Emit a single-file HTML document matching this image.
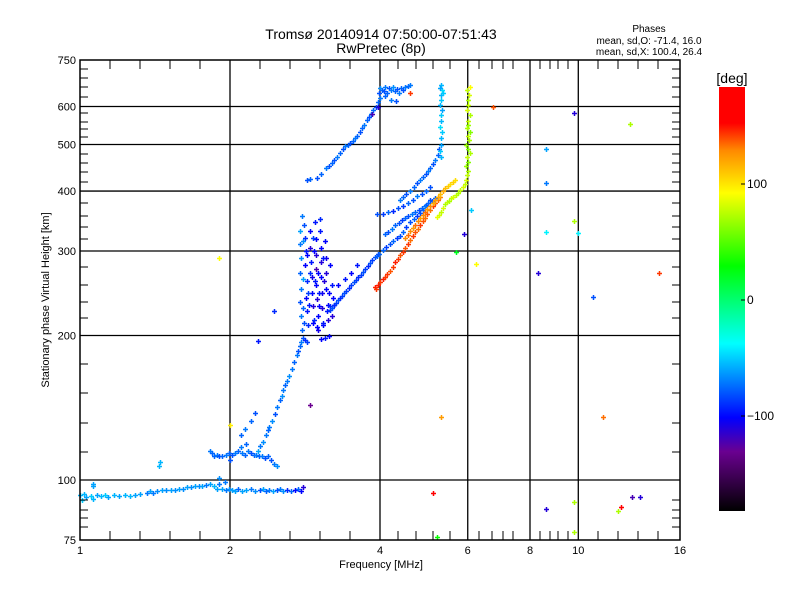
<!DOCTYPE html>
<html><head><meta charset="utf-8"><style>
html,body{margin:0;padding:0;background:#fff;}
svg{display:block;font-family:"Liberation Sans",sans-serif;}
</style></head><body>
<svg id="chart" width="800" height="600" viewBox="0 0 800 600" xmlns="http://www.w3.org/2000/svg">
<rect x="0" y="0" width="800" height="600" fill="#fff"/>
<g id="grid"></g>
<g id="points"></g>
<g id="axes"></g>
<text x="381" y="39" font-size="14" text-anchor="middle">Tromsø 20140914 07:50:00-07:51:43</text>
<text x="381" y="53" font-size="14" text-anchor="middle">RwPretec (8p)</text>
<text x="649" y="32" font-size="10" text-anchor="middle">Phases</text>
<text x="649" y="44" font-size="10" text-anchor="middle">mean, sd,O: -71.4, 16.0</text>
<text x="649" y="55" font-size="10" text-anchor="middle">mean, sd,X: 100.4, 26.4</text>
<text x="381" y="568" font-size="11" text-anchor="middle">Frequency [MHz]</text>
<text transform="translate(49,300) rotate(-90)" font-size="11" text-anchor="middle">Stationary phase Virtual Height [km]</text>
<defs><linearGradient id="cbar" x1="0" y1="1" x2="0" y2="0">
<stop offset="0" stop-color="#000"/><stop offset="0.14" stop-color="#6a0090"/><stop offset="0.22" stop-color="#0000ff"/>
<stop offset="0.395" stop-color="#00ffff"/><stop offset="0.578" stop-color="#00ff00"/><stop offset="0.75" stop-color="#ffff00"/>
<stop offset="0.85" stop-color="#ff8a00"/><stop offset="0.915" stop-color="#ff0000"/><stop offset="1" stop-color="#ff0000"/>
</linearGradient></defs>
<rect x="719" y="87" width="26" height="424" fill="url(#cbar)"/>
<text x="732" y="83" font-size="14" text-anchor="middle">[deg]</text>
<g id="cbticks" font-size="12"></g>
</svg>
<script>
// ---- data: [frequency MHz, virtual height km, phase deg] ----
const eLayer = [[1.0,93,-55],[1.01,91,-50],[1.02,93.5,-55],[1.03,92,-60],[1.05,92.5,-50],[1.06,91.5,-55],[1.08,93,-60],[1.1,92.5,-55],[1.12,93,-50],[1.14,92,-60],[1.17,93,-55],[1.2,92.5,-60],[1.23,93,-55],[1.26,92.5,-55],[1.29,93,-60],[1.32,93.5,-60],[1.36,94,-70],[1.38,95,-60],[1.4,94,-70],[1.43,95,-65],[1.46,95.5,-60],[1.49,95.5,-65],[1.52,95.5,-60],[1.55,95.5,-65],[1.58,96,-60],[1.61,96,-65],[1.64,96.5,-60],[1.67,96.5,-65],[1.7,97,-60],[1.73,97,-65],[1.76,97,-60],[1.79,97.5,-70],[1.82,98,-60],[1.86,97,-55],[1.88,96,-60],[1.9,98,-70],[1.93,96,-60],[1.96,95.5,-70],[1.99,96,-65],[2.02,95.5,-60],[2.05,95,-60],[2.08,96,-75],[2.11,95,-60],[2.15,95.5,-60],[2.2,96,-70],[2.25,95,-65],[2.3,95.5,-80],[2.33,96,-60],[2.36,95,-75],[2.4,95.5,-70],[2.44,95,-60],[2.48,95.5,-80],[2.52,96,-70],[2.56,95,-65],[2.6,95.5,-90],[2.65,95,-75],[2.7,95.5,-100],[2.74,96,-75],[2.78,95,-100],[2.8,96.5,-110],[1.44,107,-55],[1.45,109,-55],[1.06,97,-60],[1.06,98,-60],[1.9,101,-65],[1.95,99,-70]];
const esLayer = [[1.82,115,-70],[1.84,114,-75],[1.86,112,-75],[1.88,113,-70],[1.9,112,-80],[1.93,112,-75],[1.96,113,-70],[1.99,114,-75],[2.02,113,-80],[2.05,114,-70],[2.08,115,-75],[2.11,114,-70],[2.14,113,-75],[2.17,115,-70],[2.2,114,-80],[2.23,113,-75],[2.26,113,-70],[2.29,112,-75],[2.32,112,-70],[2.35,111,-80],[2.38,112,-75],[2.42,110,-80],[2.45,108,-70],[2.48,107,-65],[2.1,117,-70],[2.15,119,-75],[2.0,110,-80]];
const risingTrace = [[2.28,115,-60],[2.3,118,-70],[2.33,120,-65],[2.36,124,-70],[2.38,127,-75],[2.4,129,-70],[2.43,133,-65],[2.46,137,-80],[2.49,142,-70],[2.52,147,-75],[2.54,150,-65],[2.56,154,-70],[2.58,158,-75],[2.6,161,-70],[2.63,165,-65],[2.66,170,-70],[2.69,176,-75],[2.72,182,-70],[2.74,186,-80],[2.76,190,-75],[2.78,194,-70],[2.8,198,-80],[2.83,196,-90],[2.86,194,-85],[2.1,124,-75],[2.14,128,-70],[2.2,133,-75],[2.25,138,-80]];
const spreadCluster = [[2.77,330,-60],[2.77,310,-70],[2.78,290,-65],[2.77,270,-75],[2.78,250,-70],[2.77,235,-80],[2.78,220,-70],[2.79,205,-75],[2.82,340,-80],[2.83,320,-90],[2.84,300,-95],[2.83,280,-100],[2.85,260,-90],[2.84,240,-100],[2.85,225,-95],[2.87,210,-90],[2.9,330,-100],[2.9,305,-110],[2.91,285,-95],[2.92,265,-105],[2.92,245,-100],[2.93,230,-110],[2.93,212,-100],[2.96,345,-95],[2.97,318,-100],[2.98,295,-110],[2.97,275,-120],[2.98,255,-100],[2.99,238,-110],[3.0,220,-100],[3.0,205,-105],[3.03,330,-95],[3.04,305,-100],[3.05,285,-110],[3.04,265,-100],[3.06,245,-105],[3.06,228,-110],[3.07,210,-100],[3.1,315,-100],[3.11,290,-105],[3.12,270,-110],[3.12,250,-100],[3.14,232,-100],[3.15,215,-110],[3.18,280,-100],[3.2,255,-95],[3.22,240,-100],[3.2,220,-110],[3.16,200,-100],[3.1,198,-95],[3.05,197,-100],
[2.79,355,-70],[2.8,315,-65],[2.8,262,-60],[2.8,228,-75],[2.81,212,-80],[2.86,295,-100],[2.87,245,-85],[2.88,232,-95],[2.89,270,-90],[2.94,320,-85],[2.95,300,-100],[2.95,215,-90],[2.96,260,-95],[3.01,270,-100],[3.02,245,-95],[3.02,230,-100],[3.08,290,-95],[3.09,260,-110],[3.13,225,-95],[3.16,245,-100],[3.18,230,-90],[3.03,350,-90],[3.24,232,-95],[2.99,208,-100],[3.08,212,-95]];
const f1Trace = [[3.17,226,-85],[3.2,228,-80],[3.24,231,-90],[3.27,234,-85],[3.3,237,-80],[3.33,240,-90],[3.36,242,-85],[3.39,245,-80],[3.42,248,-85],[3.46,251,-90],[3.5,255,-85],[3.54,258,-80],[3.58,261,-85],[3.62,265,-90],[3.66,268,-85],[3.7,271,-80],[3.74,275,-85],[3.78,279,-90],[3.82,283,-80],[3.86,287,-85],[3.9,291,-80],[3.94,293,-75],[3.98,296,-70],[3.3,255,-100],[3.4,262,-95],[3.5,270,-100],[3.6,280,-95]];
const upperTrace = [[2.85,421,-80],[2.9,423,-75],[2.99,425,-80],[3.05,435,-75],[3.11,446,-70],[3.16,452,-80],[3.2,458,-75],[3.24,465,-80],[3.28,472,-70],[3.32,480,-75],[3.37,490,-80],[3.41,497,-70],[3.45,500,-75],[3.49,503,-80],[3.53,508,-75],[3.57,515,-70],[3.6,522,-75],[3.64,530,-80],[3.68,540,-75],[3.72,550,-70],[3.76,562,-75],[3.8,570,-80],[3.84,578,-70],[3.88,590,-75],[3.92,600,-80],[3.96,612,-75],[4.0,625,-70],[3.98,640,-80],[4.0,655,-65],[4.03,650,-75],[4.07,645,-80],[4.1,660,-70],[4.13,640,-75],[4.17,655,-80],[4.2,648,-70],[4.24,660,-65],[4.28,645,-75],[4.32,652,-80],[4.36,640,-70],[4.4,655,-75],[4.45,650,-80],[4.5,658,-70],[4.55,662,-75],[4.6,665,-70],[3.96,600,-110],[4.1,630,-75],[4.2,620,-70],[4.3,615,-80]];
const f2Lines = [[3.97,296,-80],[4.05,301,-75],[4.12,306,-85],[4.19,311,-80],[4.25,315,-75],[4.32,319,-85],[4.39,322,-80],[4.45,328,-75],[4.52,337,-85],[4.6,345,-80],[4.67,349,-75],[4.75,355,-85],[4.82,360,-80],[4.88,365,-75],[4.95,374,-85],[5.04,383,-80],
[4.09,325,-75],[4.15,329,-80],[4.22,334,-70],[4.29,340,-75],[4.36,343,-80],[4.42,348,-85],[4.49,352,-75],[4.56,355,-80],[4.63,359,-70],[4.71,362,-75],[4.78,366,-80],[4.86,369,-75],[4.93,372,-70],[5.0,377,-75],[5.08,382,-80],[5.16,386,-75],
[3.95,358,-80],[4.05,359,-85],[4.15,361,-75],[4.25,364,-90],[4.35,368,-80],[4.45,373,-85],[4.55,378,-75],[4.65,384,-80],[4.75,390,-70],[4.85,395,-80],[4.95,400,-75],[5.05,408,-80],
[4.39,383,-70],[4.45,388,-75],[4.52,394,-80],[4.6,401,-70],[4.67,408,-75],[4.75,415,-80],[4.82,421,-70],[4.88,428,-75],[4.95,435,-80],[5.0,440,-70],[5.05,447,-75],[5.1,455,-80],[5.16,464,-70],[5.22,475,-75],[5.26,490,-80]];
const cyanColumn = [[5.3,470,-55],[5.28,485,-50],[5.31,500,-60],[5.3,515,-55],[5.33,530,-50],[5.29,545,-45],[5.31,560,-55],[5.3,575,-50],[5.32,590,-60],[5.28,605,-55],[5.31,620,-50],[5.3,635,-55],[5.33,650,-45],[5.3,665,-55],[5.28,655,-60],[5.35,640,-50]];
const xTraceA = [[3.9,253,145],[3.93,250,140],[3.96,255,145],[4.0,258,140],[4.05,262,145],[4.09,265,140],[4.14,269,140],[4.19,273,135],[4.24,278,140],[4.29,284,145],[4.34,289,140],[4.39,294,135],[4.44,299,140],[4.49,305,135],[4.55,310,140],[4.6,316,130],[4.66,322,140],[4.71,329,135],[4.77,334,130],[4.82,340,140],[4.88,346,135],[4.93,352,130],[4.98,358,135],[5.04,365,130],[5.1,372,140],[5.16,378,135],[5.22,384,130],[5.28,389,125]];
const xTraceB = [[4.49,319,125],[4.55,324,130],[4.6,330,125],[4.66,335,120],[4.71,340,130],[4.77,346,125],[4.82,351,120],[4.88,357,125],[4.93,362,130],[4.98,367,120],[5.04,372,125],[5.1,378,115],[5.16,383,120],[5.22,389,115],[5.28,394,110],[5.34,400,115],[5.4,405,110],[5.47,410,105],[5.53,413,100],[5.6,417,105],[5.66,421,100]];
const xTraceC = [[5.2,353,85],[5.25,357,80],[5.3,362,75],[5.35,368,80],[5.4,375,70],[5.45,379,75],[5.5,382,70],[5.55,386,75],[5.6,389,80],[5.67,393,75],[5.74,397,70],[5.8,402,75],[5.87,407,80],[5.92,414,75],[5.95,421,80]];
const xColumn = [[5.97,432,75],[6.0,440,70],[5.95,450,65],[6.02,460,60],[5.98,470,75],[6.05,480,70],[6.0,490,60],[5.96,500,65],[6.03,510,70],[6.0,520,75],[6.06,530,60],[5.97,540,70],[6.02,550,65],[6.0,560,75],[6.05,575,70],[5.98,590,80],[6.02,605,75],[6.0,620,70],[6.04,635,80],[5.99,650,75],[6.05,660,90]];
const scattered = [[4.6,640,140],[6.74,598,135],[9.8,583,-110],[12.7,551,70],[8.6,489,-60],[8.6,416,-70],[6.1,365,-50],[9.8,346,70],[8.6,328,-40],[10.0,327,-40],[5.9,325,-110],[5.67,299,20],[6.23,282,90],[8.3,270,-110],[14.5,270,140],[10.7,241,-80],[5.3,135,120],[11.2,135,130],[5.1,94,170],[9.8,90,70],[8.6,87,-110],[12.8,92,-120],[13.3,92,-110],[12.2,88,160],[12.0,86,70],[9.8,78,70],[5.2,76,30],[1.9,290,90],[2.0,130,95],[2.28,195,-95],[2.45,225,-90],[2.9,143,-130],[3.85,580,-120]];
const allSeries = [eLayer, esLayer, risingTrace, spreadCluster, f1Trace, upperTrace, f2Lines, cyanColumn, xTraceA, xTraceB, xTraceC, xColumn, scattered];
const xTickLabels = [1,2,4,6,8,10,16];
const yTickLabels = [75,100,200,300,400,500,600,750];
const cbTickLabels = [100,0,-100];

// ---- scales ----
const X0=80,X1=680,Y0=540,Y1=60;
function xs(f){return X0+(X1-X0)*Math.log(f)/Math.log(16);}
function ys(h){return Y0-(Y0-Y1)*Math.log(h/75)/Math.log(10);}
function cbY(p){return 300-1.16*p;}
const stops=[[-180,[0,0,0]],[-130,[106,0,144]],[-100,[0,0,255]],[-37,[0,255,255]],[28,[0,255,0]],[90,[255,255,0]],[125,[255,138,0]],[150,[255,0,0]],[180,[255,0,0]]];
function pcol(p){
  for(let i=0;i<stops.length-1;i++){
    const a=stops[i],b=stops[i+1];
    if(p<=b[0]){const t=Math.max(0,(p-a[0])/(b[0]-a[0]));
      return 'rgb('+a[1].map((v,k)=>Math.round(v+(b[1][k]-v)*t)).join(',')+')';}
  }
  return 'rgb(255,0,0)';
}
const NS='http://www.w3.org/2000/svg';
function mk(tag,attrs,parent){const e=document.createElementNS(NS,tag);for(const k in attrs)e.setAttribute(k,attrs[k]);parent.appendChild(e);return e;}

// grid lines
const grid=document.getElementById('grid');
[2,4,6,8,10].forEach(f=>{
  const l=mk('line',{x1:xs(f),x2:xs(f),y1:Y1,y2:Y0,stroke:'#000','stroke-width':1.3},grid);
  
  
});
[100,200,300,400,500,600].forEach(h=>{
  const l=mk('line',{x1:X0,x2:X1,y1:ys(h),y2:ys(h),stroke:'#000','stroke-width':1.3},grid);
  
  
});

// points
const pg=document.getElementById('points');
allSeries.forEach(series=>{
  series.forEach(pt=>{
    const x=Math.round(xs(pt[0])),y=Math.round(ys(pt[1]));
    const p=mk('path',{d:'M'+(x-2)+' '+(y+0.5)+'h5M'+(x+0.5)+' '+(y-2)+'v5',stroke:pcol(pt[2]),'stroke-width':1.5,fill:'none'},pg);
    
    
  });
});

// axes frame & ticks
const ax=document.getElementById('axes');
mk('rect',{x:X0,y:Y1,width:X1-X0,height:Y0-Y1,fill:'none',stroke:'#000','stroke-width':1.5},ax);
const xMinorPx=[110,140,170,200,260,290,320,350,398,416,433,450,479,492,503,513,540,550,558,568,598,618,638,658];
xMinorPx.forEach(x=>{
  mk('line',{x1:x,x2:x,y1:Y0,y2:Y0-9,stroke:'#000','stroke-width':1},ax);
  mk('line',{x1:x,x2:x,y1:Y1,y2:Y1+9,stroke:'#000','stroke-width':1},ax);
});
const yMinorPx=[69,78,87,97,113,122,129,137,154,163,172,182,203,216,227,239,267,285,302,318,364,393,423,452,500,510,518,527];
yMinorPx.forEach(y=>{
  mk('line',{x1:X0,x2:X0+8,y1:y,y2:y,stroke:'#000','stroke-width':1},ax);
  mk('line',{x1:X1,x2:X1-8,y1:y,y2:y,stroke:'#000','stroke-width':1},ax);
});
xTickLabels.forEach(f=>{
  const t=mk('text',{x:xs(f),y:554,'font-size':11,'text-anchor':'middle'},ax);
  t.textContent=f;
  
  
});
yTickLabels.forEach(h=>{
  const t=mk('text',{x:76,y:ys(h)+4,'font-size':11,'text-anchor':'end'},ax);
  t.textContent=h;
  
  
});
const cbt=document.getElementById('cbticks');
cbTickLabels.forEach(p=>{
  mk('line',{x1:745,x2:741,y1:cbY(p),y2:cbY(p),stroke:'#000','stroke-width':1},cbt);
  const t=mk('text',{x:747,y:cbY(p)+4,'font-size':12},cbt);
  t.textContent=p===-100?'\u2212100':String(p);
  
  
});
</script>
</body></html>
